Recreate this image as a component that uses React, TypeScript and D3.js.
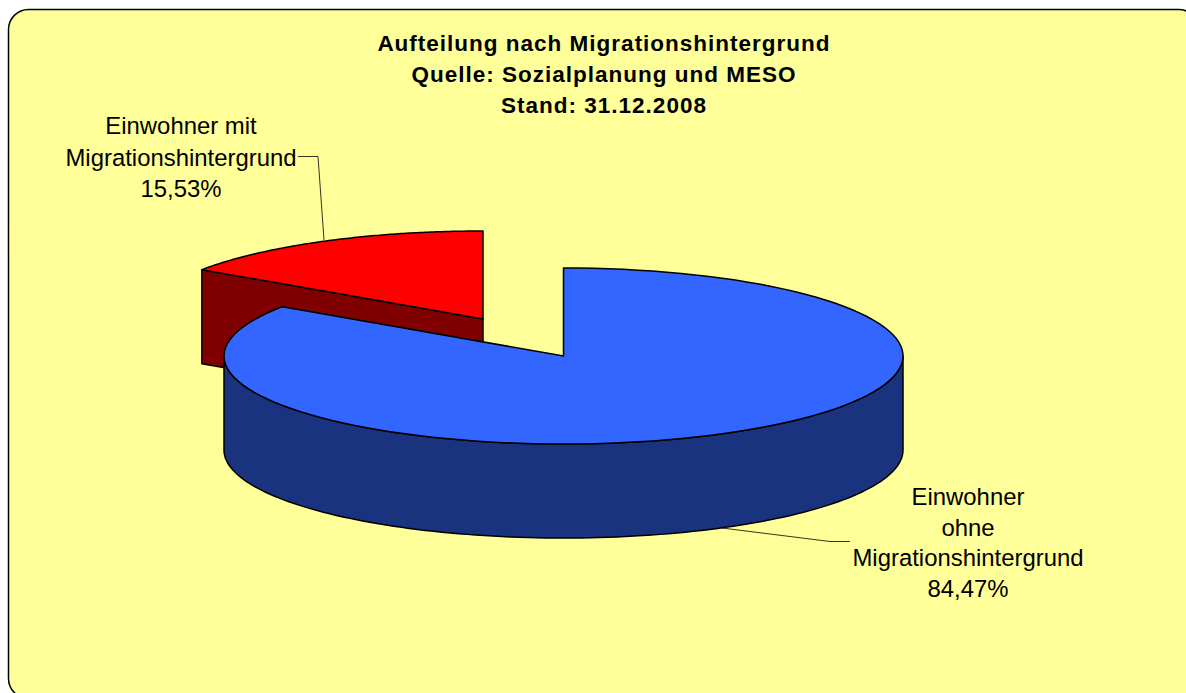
import React from 'react';
import * as d3 from 'd3';

const shares = [84.47, 15.53];
const titleLines = ['Aufteilung nach Migrationshintergrund', 'Quelle: Sozialplanung und MESO', 'Stand: 31.12.2008'];
const labelLinesOhne = ['Einwohner', 'ohne', 'Migrationshintergrund', '84,47%'];
const labelLinesMit = ['Einwohner mit', 'Migrationshintergrund', '15,53%'];

const W = 1186;
const H = 693;
const rx = 339.5;
const ry = 88;
const depth = 94;
const FONT = '"Liberation Sans", Arial, sans-serif';

const pie = d3.pie<number>().sort(null);
const slices = pie(shares);

// Kreis wird zur Ellipse gestaucht (Pseudo-3D)
const project = (cx: number, cy: number, a: number): [number, number] => [
  cx + rx * Math.sin(a),
  cy - ry * Math.cos(a),
];

const line = d3.line();

const arcPoints = (cx: number, cy: number, a0: number, a1: number) =>
  d3.range(0, 121).map((i) => project(cx, cy, a0 + ((a1 - a0) * i) / 120));

const topFace = (cx: number, cy: number, a0: number, a1: number) =>
  line([[cx, cy], ...arcPoints(cx, cy, a0, a1)]) + 'Z';

// Sichtbarer Mantel: nur die vordere Haelfte der Ellipse
const rimFace = (cx: number, cy: number, a0: number, a1: number) => {
  const pts = arcPoints(cx, cy, a0, a1);
  const lower = pts.map(([x, y]) => [x, y + depth] as [number, number]).reverse();
  return line([...pts, ...lower]) + 'Z';
};

const edge = { stroke: '#000', strokeWidth: 1.5, strokeLinejoin: 'round' as const };

export default function App() {
  const blue = slices[0];
  const red = slices[1];
  const bc = [563.5, 356];
  const rc = [483, 319];
  const redStart = project(rc[0], rc[1], red.startAngle);
  return (
    <svg width={W} height={H} style={{ position: 'fixed', left: 0, top: 0, background: '#fff' }}>
      <rect x={8.5} y={9.5} width={1190} height={689} rx={20} ry={20} fill="#ffff99" stroke="#000" strokeWidth={1.5} />

      {/* rotes, herausgezogenes Segment */}
      <path
        d={line([
          [rc[0], rc[1]],
          redStart,
          [redStart[0], redStart[1] + depth],
          [rc[0], rc[1] + depth],
        ]) + 'Z'}
        fill="#800000"
        {...edge}
      />
      <path d={topFace(rc[0], rc[1], red.startAngle, red.endAngle)} fill="#ff0000" {...edge} />

      {/* blaues Segment */}
      <path d={rimFace(bc[0], bc[1], Math.PI / 2, (3 * Math.PI) / 2)} fill="#1a337f" {...edge} />
      <path d={topFace(bc[0], bc[1], blue.startAngle, blue.endAngle)} fill="#3366ff" {...edge} />

      {/* Fuehrungslinien */}
      <path d={line([[298, 156.5], [318, 156.5], [324, 240]]) ?? ''} fill="none" stroke="#000" strokeWidth={0.8} />
      <path d={line([[722, 528], [830, 541.5], [850, 541.5]]) ?? ''} fill="none" stroke="#000" strokeWidth={0.8} />

      <g fontFamily={FONT} fontWeight="bold" fontSize={22.5} letterSpacing={1} textAnchor="middle" fill="#000">
        {titleLines.map((t, i) => (
          <text key={t} x={604} y={51 + i * 31}>{t}</text>
        ))}
      </g>
      <g fontFamily={FONT} fontSize={23.9} textAnchor="middle" fill="#000">
        {labelLinesMit.map((t, i) => (
          <text key={i} x={181} y={134 + i * 31.5}>{t}</text>
        ))}
        {labelLinesOhne.map((t, i) => (
          <text key={i} x={968} y={505 + i * 30.5}>{t}</text>
        ))}
      </g>
    </svg>
  );
}
